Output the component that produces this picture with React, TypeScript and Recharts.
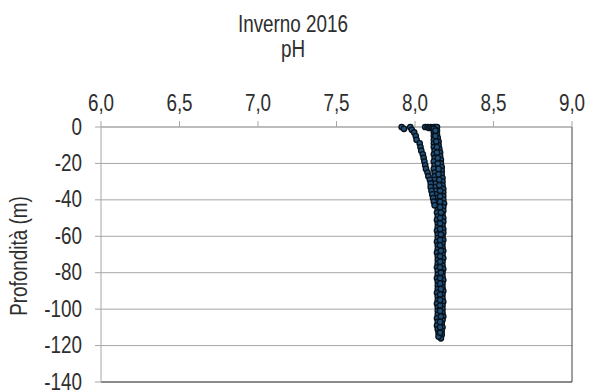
import { ScatterChart, Scatter, XAxis, YAxis, CartesianGrid, ReferenceLine } from "recharts";

// Arial-metric face squeezed horizontally to get a narrow look
const FONT = "'Liberation Sans', Arial, sans-serif";
const NARROW = 0.82;
const FONT_SIZE = 23;
const TEXT_COLOR = "#2e2e2e";

// x axis (pH), labels use the Italian decimal comma
const phTicks = [6, 6.5, 7, 7.5, 8, 8.5, 9];
const depthTicks = [0, -20, -40, -60, -80, -100, -120, -140];

// surface samples at the start of the cast
const surfDepth = [0, 0, -0.5, 0, -0.5, 0, 0];
const surfPh = [8.065, 8.08, 8.09, 8.1, 8.11, 8.12, 8.13];

// right edge of the main profile
const castADepth = [
  0, -2, -4, -6, -8, -10, -12, -14, -16, -18, -20, -22, -24, -26, -28, -30, -32, -34, -36, -38,
  -40, -42, -44, -46, -48, -50, -52, -54, -56, -58, -60, -62, -64, -66, -68, -70, -72, -74, -76, -78,
  -80, -82, -84, -86, -88, -90, -92, -94, -96, -98, -100, -102, -104, -106, -108, -110, -112, -114, -116,
];
const castAPh = [
  8.14, 8.14, 8.14, 8.145, 8.15, 8.15, 8.155, 8.16, 8.16, 8.165, 8.165, 8.17, 8.17, 8.17, 8.175, 8.175, 8.175, 8.18, 8.18, 8.18,
  8.18, 8.185, 8.18, 8.18, 8.175, 8.18, 8.18, 8.175, 8.18, 8.18, 8.175, 8.18, 8.175, 8.175, 8.18, 8.175, 8.18, 8.175, 8.175, 8.18,
  8.175, 8.175, 8.18, 8.175, 8.175, 8.18, 8.175, 8.175, 8.18, 8.175, 8.175, 8.175, 8.18, 8.175, 8.17, 8.175, 8.17, 8.17, 8.165,
];

// left edge of the main profile
const castBDepth = [
  -1, -3, -5, -7, -9, -11, -13, -15, -17, -19, -21, -23, -25, -27, -29, -31, -33, -35, -37, -39,
  -41, -43, -45, -47, -49, -51, -53, -55, -57, -59, -61, -63, -65, -67, -69, -71, -73, -75, -77, -79,
  -81, -83, -85, -87, -89, -91, -93, -95, -97, -99, -101, -103, -105, -107, -109, -111, -113, -115,
];
const castBPh = [
  8.12, 8.12, 8.12, 8.12, 8.12, 8.12, 8.125, 8.12, 8.125, 8.12, 8.125, 8.12, 8.125, 8.125, 8.125, 8.13, 8.13, 8.13, 8.135, 8.135,
  8.14, 8.14, 8.145, 8.14, 8.145, 8.14, 8.145, 8.145, 8.14, 8.145, 8.145, 8.14, 8.145, 8.145, 8.14, 8.145, 8.145, 8.145, 8.14, 8.145,
  8.145, 8.14, 8.145, 8.145, 8.145, 8.14, 8.145, 8.145, 8.14, 8.145, 8.145, 8.145, 8.14, 8.145, 8.14, 8.145, 8.15, 8.15,
];

// interior of the main profile
const castCDepth = [
  -2, -5, -8, -11, -14, -17, -20, -23, -26, -29, -32, -35, -38, -41, -44, -47, -50, -53, -56, -59,
  -62, -65, -68, -71, -74, -77, -80, -83, -86, -89, -92, -95, -98, -101, -104, -107, -110, -113,
];
const castCPh = [
  8.13, 8.13, 8.135, 8.14, 8.14, 8.145, 8.145, 8.15, 8.15, 8.155, 8.155, 8.16, 8.16, 8.16, 8.16, 8.165, 8.16, 8.16, 8.16, 8.165,
  8.16, 8.16, 8.165, 8.16, 8.16, 8.16, 8.165, 8.16, 8.16, 8.165, 8.16, 8.16, 8.16, 8.16, 8.165, 8.16, 8.16, 8.16,
];

// shallow profile bending in from lower pH near the surface
const castDDepth = [
  0, -1, 0, -1.5, -3, -5, -7, -9, -11, -13, -15, -17, -19, -21, -23, -25, -27, -29, -31, -33,
  -35, -37, -39, -41, -43,
];
const castDPh = [
  7.915, 7.93, 7.97, 7.98, 7.995, 8.005, 8.01, 8.03, 8.035, 8.04, 8.05, 8.055, 8.06, 8.065, 8.07, 8.08, 8.085, 8.095, 8.1, 8.1,
  8.105, 8.11, 8.115, 8.12, 8.125,
];

const toPoints = (depth: number[], ph: number[]) => depth.map((d, i) => ({ ph: ph[i], depth: d }));

const series = [
  toPoints(surfDepth, surfPh),
  toPoints(castADepth, castAPh),
  toPoints(castBDepth, castBPh),
  toPoints(castCDepth, castCPh),
  toPoints(castDDepth, castDPh),
];

const Dot = (props: any) => (
  <circle cx={props.cx} cy={props.cy} r={2.7} fill="#22517a" stroke="#08121c" strokeWidth={1.3} />
);

const NarrowText = ({ x, y, anchor, children }: { x: number; y: number; anchor: string; children: any }) => (
  <text
    transform={`translate(${x},${y}) scale(${NARROW},1)`}
    textAnchor={anchor}
    fontFamily={FONT}
    fontSize={FONT_SIZE}
    fill={TEXT_COLOR}
  >
    {children}
  </text>
);

const PhTick = (props: any) => (
  <NarrowText x={props.x} y={props.y} anchor="middle">
    {props.payload.value.toFixed(1).replace(".", ",")}
  </NarrowText>
);

const DepthTick = (props: any) => (
  <NarrowText x={props.x} y={props.y + 7.5} anchor="end">
    {String(props.payload.value)}
  </NarrowText>
);

export default function App() {
  return (
    <div style={{ position: "absolute", left: 0, top: 0, width: 589, height: 392, background: "#fff", fontFamily: FONT }}>
      <div
        style={{
          position: "absolute",
          left: 193,
          top: 12,
          width: 200,
          textAlign: "center",
          fontSize: FONT_SIZE,
          lineHeight: "25px",
          color: TEXT_COLOR,
          transform: `scaleX(${NARROW})`,
        }}
      >
        Inverno 2016
        <br />
        pH
      </div>
      <div
        style={{
          position: "absolute",
          left: 19 - 100,
          top: 256 - 13,
          width: 200,
          height: 26,
          lineHeight: "26px",
          textAlign: "center",
          fontSize: FONT_SIZE,
          color: TEXT_COLOR,
          transform: `rotate(-90deg) scaleX(${NARROW})`,
          zIndex: 1,
        }}
      >
        Profondità (m)
      </div>
      <ScatterChart width={589} height={392} margin={{ top: 60, right: 17, bottom: 10, left: 8 }}>
        <CartesianGrid vertical={false} stroke="#a6a6a6" />
        <XAxis
          type="number"
          dataKey="ph"
          orientation="top"
          domain={[6, 9]}
          ticks={phTicks}
          height={67}
          tickSize={6}
          tickMargin={10}
          stroke="#a6a6a6"
          tick={PhTick}
          allowDataOverflow
        />
        <YAxis
          type="number"
          dataKey="depth"
          domain={[-140, 0]}
          ticks={depthTicks}
          width={93}
          tickSize={6}
          tickMargin={13}
          stroke="#a6a6a6"
          tick={DepthTick}
        />
        <ReferenceLine x={9} stroke="#404040" />
        <ReferenceLine y={-140} stroke="#404040" />
        {series.map((data, i) => (
          <Scatter key={i} data={data} shape={Dot} isAnimationActive={false} />
        ))}
      </ScatterChart>
    </div>
  );
}
